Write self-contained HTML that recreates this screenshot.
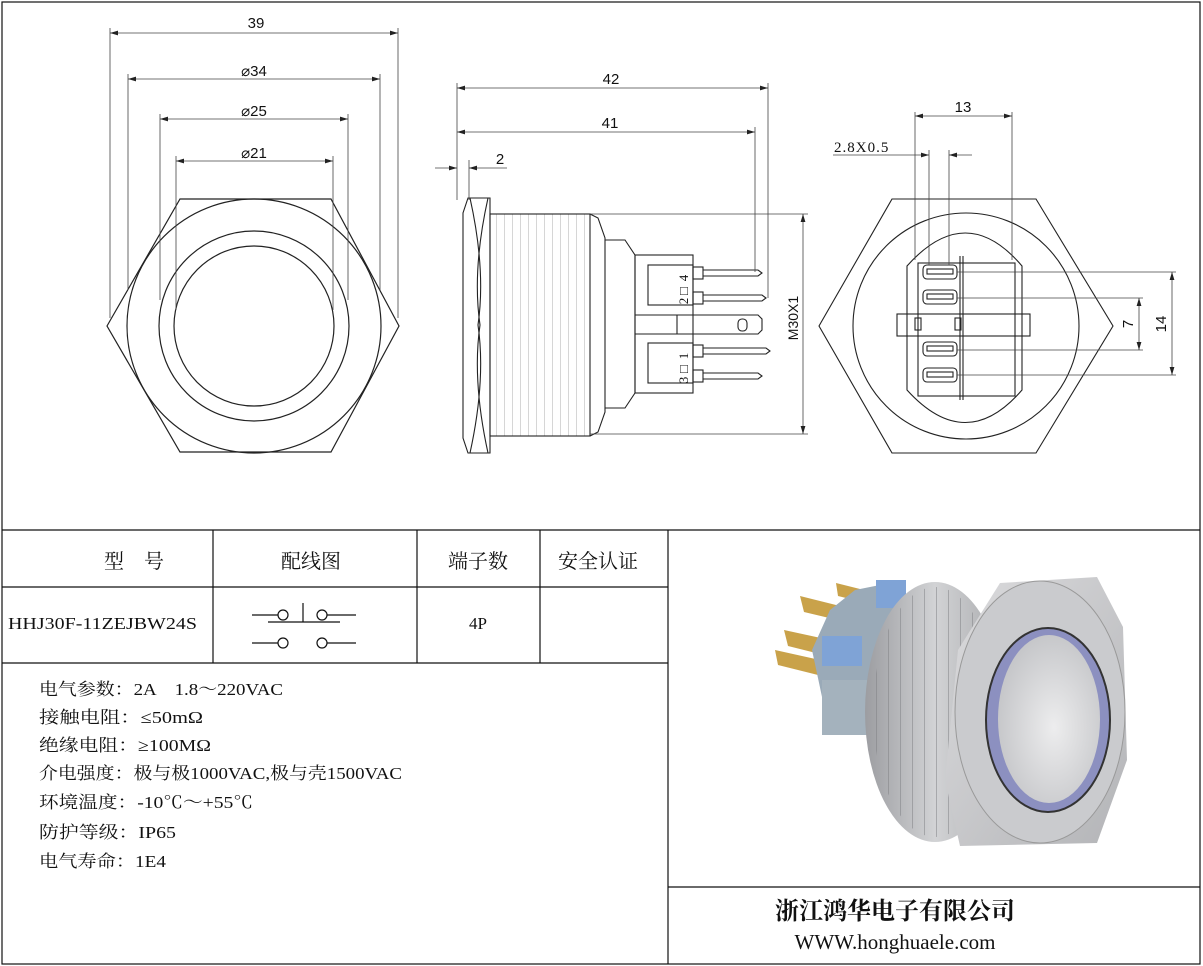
<!DOCTYPE html>
<html><head><meta charset="utf-8"><style>
html,body{margin:0;padding:0;background:#fff;}
svg{display:block;}
.t{font-family:"Liberation Sans",sans-serif;font-size:15px;fill:#111;}
.c{font-family:"Liberation Serif","Noto Serif CJK SC",serif;fill:#111;}
</style></head><body>
<svg width="1203" height="966" viewBox="0 0 1203 966" xmlns="http://www.w3.org/2000/svg">
<defs>
<marker id="a" viewBox="0 0 10 6" refX="10" refY="3" markerWidth="10" markerHeight="6" orient="auto-start-reverse"><path d="M0,0 L10,3 L0,6 z" fill="#222"/></marker>
<radialGradient id="face" cx="0.55" cy="0.55" r="0.6"><stop offset="0" stop-color="#ededee"/><stop offset="1" stop-color="#c3c4c7"/></radialGradient>
<linearGradient id="thr" x1="0" x2="1"><stop offset="0" stop-color="#9c9da1"/><stop offset="0.5" stop-color="#d2d3d5"/><stop offset="1" stop-color="#a9aaad"/></linearGradient>
<linearGradient id="bez" x1="0" x2="1" y1="0" y2="1"><stop offset="0" stop-color="#dcdcde"/><stop offset="1" stop-color="#b3b4b7"/></linearGradient>
<pattern id="stripes" width="8" height="8" patternUnits="userSpaceOnUse"><line x1="0" y1="0" x2="0" y2="8" stroke="#777" stroke-width="0.6"/></pattern>
<pattern id="pst" width="12" height="12" patternUnits="userSpaceOnUse"><line x1="0" y1="0" x2="0" y2="12" stroke="#7d7e82" stroke-width="2"/></pattern>
</defs>
<g fill="none" stroke="#111" stroke-width="1.2">
<rect x="2" y="2" width="1198" height="962"/>
<line x1="2" y1="530" x2="1200" y2="530"/>
<line x1="2" y1="587" x2="668" y2="587"/>
<line x1="2" y1="663" x2="668" y2="663"/>
<line x1="668" y1="530" x2="668" y2="964"/>
<line x1="213" y1="530" x2="213" y2="663"/>
<line x1="417" y1="530" x2="417" y2="663"/>
<line x1="540" y1="530" x2="540" y2="663"/>
<line x1="668" y1="887" x2="1200" y2="887"/>
</g>
<g fill="none" stroke="#222" stroke-width="1.2">
<polygon points="107,326 180,199 331,199 399,326 331,452 180,452"/>
<circle cx="254" cy="326" r="127"/>
<circle cx="254" cy="326" r="95"/>
<circle cx="254" cy="326" r="80"/>
</g>
<g stroke="#444" stroke-width="0.8" fill="none">
<line x1="110" y1="28" x2="110" y2="318"/><line x1="398" y1="28" x2="398" y2="318"/>
<line x1="128" y1="74" x2="128" y2="290"/><line x1="380" y1="74" x2="380" y2="290"/>
<line x1="160" y1="114" x2="160" y2="300"/><line x1="348" y1="114" x2="348" y2="300"/>
<line x1="176" y1="156" x2="176" y2="310"/><line x1="333" y1="156" x2="333" y2="310"/>
<line x1="110" y1="33" x2="398" y2="33" marker-start="url(#a)" marker-end="url(#a)"/>
<line x1="128" y1="79" x2="380" y2="79" marker-start="url(#a)" marker-end="url(#a)"/>
<line x1="160" y1="119" x2="348" y2="119" marker-start="url(#a)" marker-end="url(#a)"/>
<line x1="176" y1="161" x2="333" y2="161" marker-start="url(#a)" marker-end="url(#a)"/>
</g>
<text class="t" x="256" y="28" text-anchor="middle">39</text>
<text class="t" x="254" y="76" text-anchor="middle">⌀34</text>
<text class="t" x="254" y="116" text-anchor="middle">⌀25</text>
<text class="t" x="254" y="158" text-anchor="middle">⌀21</text>
<g fill="none" stroke="#222" stroke-width="1.1">
<path d="M468,198 L490,198 L490,453 L468,453 L463,438 L463,213 Z"/>
<path d="M470,198 Q486,270 478,325 Q486,380 470,453"/>
<path d="M488,198 Q472,270 480,325 Q472,380 488,453"/>
<rect x="490" y="214" width="100" height="222" fill="url(#stripes)"/>
<path d="M590,214 L598,218 L605,238 L605,412 L598,432 L590,436"/>
<path d="M605,240 L625,240 L635,255 L635,393 L625,408 L605,408"/>
<rect x="635" y="255" width="58" height="138"/>
<rect x="648" y="265" width="45" height="40"/>
<rect x="648" y="343" width="45" height="40"/>
<rect x="693" y="267" width="10" height="12"/><rect x="693" y="292" width="10" height="12"/>
<rect x="693" y="345" width="10" height="12"/><rect x="693" y="370" width="10" height="12"/>
<path d="M703,270 L758,270 L762,273 L758,276 L703,276"/>
<path d="M703,295 L762,295 L766,298 L762,301 L703,301"/>
<path d="M703,348 L766,348 L770,351 L766,354 L703,354"/>
<path d="M703,373 L758,373 L762,376 L758,379 L703,379"/>
<path d="M635,315 L758,315 L762,319 L762,330 L758,334 L635,334"/>
<line x1="677" y1="315" x2="677" y2="334"/>
<rect x="738" y="319" width="9" height="12" rx="4"/>
</g>
<g stroke="#444" stroke-width="0.8" fill="none">
<line x1="457" y1="83" x2="457" y2="200"/><line x1="469" y1="160" x2="469" y2="200"/>
<line x1="768" y1="83" x2="768" y2="298"/><line x1="755" y1="127" x2="755" y2="272"/>
<line x1="457" y1="88" x2="768" y2="88" marker-start="url(#a)" marker-end="url(#a)"/>
<line x1="457" y1="132" x2="755" y2="132" marker-start="url(#a)" marker-end="url(#a)"/>
<line x1="435" y1="168" x2="457" y2="168" marker-end="url(#a)"/>
<line x1="507" y1="168" x2="469" y2="168" marker-end="url(#a)"/>
<line x1="590" y1="214" x2="808" y2="214"/><line x1="590" y1="434" x2="808" y2="434"/>
<line x1="803" y1="214" x2="803" y2="434" marker-start="url(#a)" marker-end="url(#a)"/>
</g>
<text class="t" x="611" y="84" text-anchor="middle">42</text>
<text class="t" x="610" y="128" text-anchor="middle">41</text>
<text class="t" x="500" y="164" text-anchor="middle">2</text>
<text class="t" x="798" y="318" text-anchor="middle" transform="rotate(-90 798 318)" style="font-size:14px">M30X1</text>
<g class="c" style="font-size:13px">
<text x="688" y="278" transform="rotate(-90 688 278)" text-anchor="middle">4</text>
<text x="688" y="291" transform="rotate(-90 688 291)" text-anchor="middle">□</text>
<text x="688" y="301" transform="rotate(-90 688 301)" text-anchor="middle">2</text>
<text x="688" y="356" transform="rotate(-90 688 356)" text-anchor="middle">1</text>
<text x="688" y="369" transform="rotate(-90 688 369)" text-anchor="middle">□</text>
<text x="688" y="380" transform="rotate(-90 688 380)" text-anchor="middle">3</text>
</g>
<g fill="none" stroke="#222" stroke-width="1.1">
<polygon points="819,326 892,199 1036,199 1113,326 1036,453 892,453"/>
<circle cx="966" cy="326" r="113"/>
<path d="M907,266 Q966,200 1022,266 L1022,390 Q966,455 907,390 Z"/>
<rect x="918" y="263" width="97" height="133"/>
<line x1="963" y1="256" x2="963" y2="400"/><line x1="960" y1="256" x2="960" y2="400"/>
<rect x="897" y="314" width="133" height="22"/>
<rect x="915" y="318" width="6" height="12"/><rect x="955" y="318" width="6" height="12"/>
<rect x="923" y="265" width="34" height="14" rx="4"/><rect x="927" y="269" width="26" height="5"/>
<rect x="923" y="290" width="34" height="14" rx="4"/><rect x="927" y="294" width="26" height="5"/>
<rect x="923" y="342" width="34" height="14" rx="4"/><rect x="927" y="346" width="26" height="5"/>
<rect x="923" y="368" width="34" height="14" rx="4"/><rect x="927" y="372" width="26" height="5"/>
</g>
<g stroke="#444" stroke-width="0.8" fill="none">
<line x1="915" y1="112" x2="915" y2="260"/><line x1="1012" y1="112" x2="1012" y2="260"/>
<line x1="915" y1="116" x2="1012" y2="116" marker-start="url(#a)" marker-end="url(#a)"/>
<line x1="929" y1="150" x2="929" y2="265"/><line x1="949" y1="150" x2="949" y2="265"/>
<line x1="833" y1="155" x2="929" y2="155" marker-end="url(#a)"/>
<line x1="972" y1="155" x2="949" y2="155" marker-end="url(#a)"/>
<line x1="957" y1="272" x2="1176" y2="272"/><line x1="957" y1="375" x2="1176" y2="375"/>
<line x1="957" y1="298" x2="1143" y2="298"/><line x1="957" y1="350" x2="1143" y2="350"/>
<line x1="1139" y1="298" x2="1139" y2="350" marker-start="url(#a)" marker-end="url(#a)"/>
<line x1="1172" y1="272" x2="1172" y2="375" marker-start="url(#a)" marker-end="url(#a)"/>
</g>
<text class="t" x="963" y="112" text-anchor="middle">13</text>
<text class="c" x="834" y="152" style="font-size:15px;letter-spacing:1px">2.8X0.5</text>
<text class="t" x="1133" y="324" text-anchor="middle" transform="rotate(-90 1133 324)">7</text>
<text class="t" x="1166" y="324" text-anchor="middle" transform="rotate(-90 1166 324)">14</text>
<g class="c" style="font-size:20px">
<text x="134" y="568" text-anchor="middle">型　号</text>
<text x="311" y="568" text-anchor="middle">配线图</text>
<text x="478" y="568" text-anchor="middle">端子数</text>
<text x="598" y="568" text-anchor="middle">安全认证</text>
<text x="8" y="629" style="font-size:17px" textLength="189" lengthAdjust="spacingAndGlyphs">HHJ30F-11ZEJBW24S</text>
<text x="478" y="629" text-anchor="middle" style="font-size:17px">4P</text>
</g>
<g fill="none" stroke="#111" stroke-width="1.2">
<line x1="252" y1="615" x2="278" y2="615"/><circle cx="283" cy="615" r="5"/>
<circle cx="322" cy="615" r="5"/><line x1="327" y1="615" x2="356" y2="615"/>
<line x1="268" y1="622" x2="340" y2="622"/><line x1="303" y1="603" x2="303" y2="622"/>
<line x1="252" y1="643" x2="278" y2="643"/><circle cx="283" cy="643" r="5"/>
<circle cx="322" cy="643" r="5"/><line x1="327" y1="643" x2="356" y2="643"/>
</g>
<g class="c" style="font-size:17px">
<text x="39" y="695" textLength="244" lengthAdjust="spacingAndGlyphs">电气参数：2A　1.8～220VAC</text>
<text x="39" y="723" textLength="164" lengthAdjust="spacingAndGlyphs">接触电阻：≤50mΩ</text>
<text x="39" y="751" textLength="172" lengthAdjust="spacingAndGlyphs">绝缘电阻：≥100MΩ</text>
<text x="39" y="779" textLength="363" lengthAdjust="spacingAndGlyphs">介电强度：极与极1000VAC,极与壳1500VAC</text>
<text x="39" y="808" textLength="214" lengthAdjust="spacingAndGlyphs">环境温度：-10℃～+55℃</text>
<text x="39" y="838" textLength="137" lengthAdjust="spacingAndGlyphs">防护等级：IP65</text>
<text x="39" y="867" textLength="127" lengthAdjust="spacingAndGlyphs">电气寿命：1E4</text>
</g>
<text class="c" x="895" y="919" text-anchor="middle" style="font-size:24px;font-weight:bold">浙江鸿华电子有限公司</text>
<text class="c" x="895" y="949" text-anchor="middle" style="font-size:21px">WWW.honghuaele.com</text>
<g>
<path d="M836,583 L880,594 L878,606 L838,596 Z" fill="#c9a24a"/>
<path d="M800,596 L848,608 L846,622 L804,612 Z" fill="#c9a24a"/>
<path d="M784,630 L830,640 L828,656 L788,646 Z" fill="#c9a24a"/>
<path d="M775,650 L820,660 L818,675 L778,665 Z" fill="#c9a24a"/>
<path d="M855,590 L905,580 L905,740 L828,725 L812,650 L830,610 Z" fill="#9aaab8"/>
<rect x="876" y="580" width="30" height="28" fill="#7fa3d6"/>
<rect x="822" y="636" width="40" height="30" fill="#7fa3d6"/>
<rect x="822" y="680" width="45" height="55" fill="#a4b2bd"/>
<ellipse cx="935" cy="712" rx="70" ry="130" fill="url(#thr)"/>
<ellipse cx="935" cy="712" rx="62" ry="125" fill="url(#pst)" opacity="0.5"/>
<path d="M1000,583 L1097,577 L1123,627 L1127,760 L1097,843 L960,846 L945,780 L958,650 Z" fill="url(#bez)"/>
<ellipse cx="1040" cy="712" rx="85" ry="131" fill="#cacbce" stroke="#999" stroke-width="1"/>
<ellipse cx="1048" cy="720" rx="62" ry="92" fill="#8c90c0" stroke="#333" stroke-width="2"/>
<ellipse cx="1049" cy="719" rx="51" ry="84" fill="url(#face)"/>
</g>
</svg>
</body></html>
